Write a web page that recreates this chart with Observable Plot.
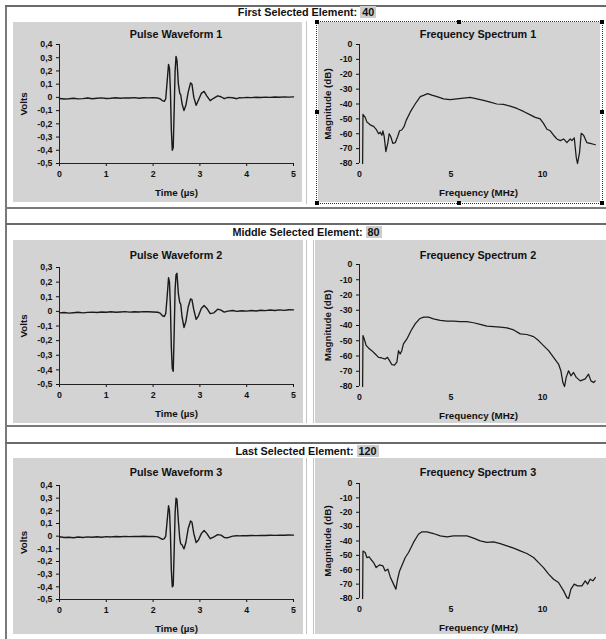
<!DOCTYPE html>
<html>
<head>
<meta charset="utf-8">
<script src="https://cdn.jsdelivr.net/npm/d3@7"></script>
<script src="https://cdn.jsdelivr.net/npm/@observablehq/plot@0.6"></script>
<style>
  html, body { margin: 0; padding: 0; background: #fff; }
  #page { position: relative; width: 606px; height: 639px; overflow: hidden; background: #fff;
          font-family: "Liberation Sans", Arial, sans-serif; }
  .hline { position: absolute; left: 5px; right: 0; height: 2px; background: #6a6a6a; }
  .vline { position: absolute; width: 2px; background: #7a7a7a; }
  .thin { position: absolute; width: 1px; background: #c4c4c4; }
  .header { position: absolute; left: 0; width: 614px; text-align: center; font-weight: bold; font-size: 10.8px; color: #111; line-height: 13px; }
  .header span { background: #cdcdcd; padding: 0 2px; }
  .panel { position: absolute; background: #d3d3d3; }
  .panel svg { position: absolute; left: 0; top: 0; }
  .ptitle { position: absolute; text-align: center; font-weight: bold; font-size: 10.8px; color: #111; line-height: 12px; }
  .sel { position: absolute; border: 1px dotted #333; }
  .handle { position: absolute; width: 4px; height: 4px; background: #000; }
</style>
</head>
<body>
<div id="page"></div>
<script>
// ---------- data ----------
const headers = ["First Selected Element: ", "Middle Selected Element: ", "Last Selected Element: "];
const elements = ["40", "80", "120"];
const waveTitles = ["Pulse Waveform 1", "Pulse Waveform 2", "Pulse Waveform 3"];
const specTitles = ["Frequency Spectrum 1", "Frequency Spectrum 2", "Frequency Spectrum 3"];

const pulseTime = [0,0.1,0.2,0.3,0.4,0.5,0.6,0.7,0.8,0.9,1.0,1.1,1.2,1.3,1.4,1.5,1.6,1.7,1.8,1.9,2.0,2.1,
  2.15,2.2,2.24,2.27,2.3,2.33,2.35,2.37,2.39,2.41,2.43,2.45,2.47,2.49,2.51,2.54,2.57,2.59,2.62,2.66,2.7,2.75,2.8,2.83,2.87,2.92,2.97,3.03,3.09,3.15,3.22,3.3,3.38,3.45,3.52,3.6,3.7,3.79,3.85,
  3.9,4.0,4.1,4.2,4.3,4.4,4.5,4.6,4.7,4.8,4.9,5.0];

const volts1 = [-0.008,-0.012,-0.01,-0.006,-0.011,-0.009,-0.005,-0.01,-0.007,-0.004,-0.008,-0.006,-0.003,-0.007,-0.004,-0.005,-0.002,-0.006,-0.003,-0.004,-0.002,-0.005,
  -0.01,-0.025,-0.03,-0.01,0.12,0.25,0.22,0.05,-0.25,-0.4,-0.38,-0.1,0.2,0.31,0.28,0.1,0.03,0.02,-0.05,-0.1,-0.06,0.04,0.11,0.1,0.0,-0.06,-0.02,0.03,0.045,0.01,-0.025,-0.005,0.012,0.005,-0.01,0.0,-0.003,-0.01,-0.002,
  -0.004,0.0,-0.002,0.001,-0.001,0.002,0.0,0.003,0.001,0.004,0.002,0.004];

const volts2 = [-0.01,-0.008,-0.012,-0.009,-0.006,-0.01,-0.007,-0.005,-0.008,-0.004,-0.006,-0.003,-0.006,-0.004,-0.002,-0.005,-0.003,-0.004,-0.002,-0.003,-0.004,-0.006,
  -0.012,-0.03,-0.035,-0.015,0.1,0.23,0.2,0.03,-0.25,-0.39,-0.41,-0.15,0.15,0.25,0.26,0.12,0.06,0.05,-0.04,-0.11,-0.07,0.03,0.085,0.08,0.01,-0.055,-0.03,0.02,0.04,0.02,-0.015,-0.01,0.015,0.008,-0.005,0.002,0.006,0.0,0.003,
  0.004,0.002,0.006,0.003,0.008,0.005,0.009,0.006,0.01,0.007,0.011,0.01];

const volts3 = [-0.005,-0.01,-0.008,-0.012,-0.007,-0.01,-0.006,-0.009,-0.005,-0.008,-0.004,-0.006,-0.003,-0.005,-0.002,-0.004,-0.002,-0.003,-0.001,-0.003,-0.002,-0.006,
  -0.015,-0.025,-0.02,0.0,0.12,0.24,0.2,0.02,-0.27,-0.4,-0.39,-0.12,0.18,0.3,0.29,0.12,-0.02,-0.06,-0.07,-0.1,-0.05,0.06,0.12,0.11,0.02,-0.05,-0.03,0.02,0.045,0.02,-0.02,-0.005,0.012,0.008,-0.01,-0.012,0.0,0.003,0.002,
  0.004,0.003,0.005,0.004,0.006,0.005,0.007,0.006,0.008,0.007,0.009,0.008];

const freq1 = [0.17,0.19,0.31,0.40,0.58,0.77,0.91,1.04,1.13,1.22,1.28,1.35,1.44,1.55,1.62,1.71,1.82,1.95,2.08,2.19,2.31,2.44,2.55,2.77,3.04,3.32,3.53,3.72,3.95,4.23,4.59,4.95,5.32,5.68,6.05,6.41,6.78,7.14,7.5,7.87,8.23,8.6,8.96,9.33,9.6,9.87,10.05,10.24,10.42,10.6,10.78,10.97,11.15,11.33,11.51,11.6,11.73,11.84,11.91,12.02,12.11,12.24,12.42,12.6,12.88];
const mag1 = [-80,-47,-49,-52,-54,-55,-57,-60,-59,-61,-58,-62,-72,-66,-60,-62,-66.5,-66,-62,-58,-57.5,-55,-51,-45.5,-40,-35,-34,-33,-34,-35,-36.5,-37,-36.5,-36,-35.5,-36.5,-37.5,-38.7,-40,-40.3,-41.4,-43,-45,-47.3,-49,-50,-53,-57,-58,-61,-63.5,-64.6,-63.5,-66,-63.5,-64.6,-62.8,-76,-80,-72.5,-59.7,-61,-66,-66.5,-67.4];

const freq2 = [0.17,0.19,0.26,0.36,0.49,0.67,0.86,1.04,1.22,1.4,1.53,1.64,1.77,1.91,2.04,2.13,2.22,2.31,2.4,2.59,2.82,3.04,3.28,3.5,3.77,4.04,4.41,4.77,5.14,5.5,5.87,6.23,6.59,6.96,7.32,7.69,8.05,8.42,8.78,9.14,9.51,9.78,10.05,10.33,10.6,10.87,11.0,11.11,11.2,11.29,11.42,11.55,11.69,11.84,12.06,12.33,12.51,12.64,12.79,12.88];
const mag2 = [-80,-46.6,-48.8,-53,-54.7,-56.5,-58.7,-60.9,-61.3,-62,-60.9,-63,-65.7,-66,-64,-56.5,-58.7,-56.5,-52,-48.8,-43.3,-38.9,-35.6,-34.5,-34.5,-35.6,-36.7,-37.1,-37.1,-37.4,-37.4,-38.2,-39.3,-40.4,-40.7,-41.1,-41.5,-42.9,-45.5,-45.9,-47.3,-49.9,-53.2,-56.5,-60.9,-65.3,-69.7,-77.4,-80,-74,-69.7,-73,-70.8,-74,-76.3,-75,-71.9,-76.3,-77.4,-76.3];

const freq3 = [0.17,0.19,0.31,0.4,0.53,0.62,0.77,0.91,1.09,1.28,1.4,1.55,1.68,1.86,1.99,2.08,2.19,2.31,2.5,2.68,2.95,3.22,3.41,3.68,4.04,4.41,4.77,5.14,5.5,5.87,6.23,6.59,6.96,7.32,7.69,8.05,8.42,8.78,9.14,9.51,9.78,10.05,10.33,10.6,10.87,11.15,11.33,11.42,11.55,11.73,11.91,12.15,12.33,12.46,12.6,12.75,12.88];
const mag3 = [-80,-47,-48,-51.5,-51,-52.7,-55,-58.5,-56.6,-57.3,-60.8,-59.6,-65,-70,-73.5,-66.6,-60.8,-57.3,-51.5,-48,-41,-35.3,-33.6,-33.6,-34.8,-36.4,-37.1,-36.4,-36.4,-36.4,-38,-39.9,-41,-40.6,-41.8,-43.4,-45,-46.9,-48.7,-51.5,-55,-58.5,-63,-66.6,-68.9,-74.7,-79.4,-80,-73.5,-70,-71.2,-71.2,-67.7,-70,-66.6,-67.7,-65.4];

const waveTicks = [[-0.5,-0.4,-0.3,-0.2,-0.1,0,0.1,0.2,0.3,0.4],[-0.5,-0.4,-0.3,-0.2,-0.1,0,0.1,0.2,0.3],[-0.5,-0.4,-0.3,-0.2,-0.1,0,0.1,0.2,0.3,0.4]];
const timeTicks = [0,1,2,3,4,5];
const magTicks = [-80,-70,-60,-50,-40,-30,-20,-10,0];
const freqTicks = [0,5,10];
const axisTitles = {time: "Time (µs)", volts: "Volts", freq: "Frequency (MHz)", mag: "Magnitude (dB)"};

const volts = [volts1, volts2, volts3];
const freqs = [freq1, freq2, freq3];
const mags = [mag1, mag2, mag3];

// ---------- layout ----------
const page = document.getElementById("page");
function el(cls, css, html) {
  const d = document.createElement("div");
  d.className = cls;
  Object.assign(d.style, css);
  if (html !== undefined) d.innerHTML = html;
  page.appendChild(d);
  return d;
}

const rows = [
  {lineTop: 5, lineBottom: 207, headY: 6,
   L: {left: 13, top: 22, w: 289, h: 180, mL: 46, mR: 9, mT: 22, mB: 39, tY: 6},
   R: {left: 318, top: 22, w: 282, h: 180, mL: 41, mR: 3, mT: 22, mB: 39, tY: 6}},
  {lineTop: 223, lineBottom: 425, headY: 226,
   L: {left: 13, top: 240, w: 290, h: 183, mL: 46, mR: 10, mT: 27, mB: 39, tY: 9},
   R: {left: 315, top: 240, w: 291, h: 183, mL: 44, mR: 9, mT: 24, mB: 37, tY: 9}},
  {lineTop: 442, lineBottom: null, headY: 445,
   L: {left: 13, top: 458, w: 290, h: 176, mL: 46, mR: 10, mT: 27, mB: 35, tY: 8},
   R: {left: 315, top: 458, w: 291, h: 176, mL: 44, mR: 9, mT: 25, mB: 36, tY: 8}}
];

el("vline", {left: "5px", top: "5px", height: "634px"});

const fmtVolt = d => d === 0 ? "0" : (d < 0 ? "-" : "") + Math.abs(d).toFixed(1).replace(".", ",");
const fmtPlain = d => (d < 0 ? "-" : "") + Math.abs(d);
const baseStyle = {background: "transparent", fontFamily: "'Liberation Sans', Arial, sans-serif", fontSize: "8.8px", fontWeight: "bold", color: "#111", overflow: "visible"};

function biggerLabels(svg) {
  const names = Object.values(axisTitles);
  svg.querySelectorAll("text").forEach(t => {
    if (names.includes(t.textContent.trim())) t.style.fontSize = "9.8px";
  });
  return svg;
}

rows.forEach((r, i) => {
  el("hline", {top: r.lineTop + "px"});
  if (r.lineBottom !== null) el("hline", {top: r.lineBottom + "px", height: "1.5px", background: "#7a7a7a"});
  el("header", {top: r.headY + "px"}, headers[i] + "<span>" + elements[i] + "</span>");

  if (i === 0) {
    el("thin", {left: "306px", top: "21px", height: "183px"});
  } else {
    el("thin", {left: "306px", top: (r.L.top) + "px", height: (r.L.h) + "px"});
    el("thin", {left: "313px", top: (r.L.top) + "px", height: (r.L.h) + "px"});
  }

  // ----- waveform panel -----
  const L = r.L;
  const pL = el("panel", {left: L.left + "px", top: L.top + "px", width: L.w + "px", height: L.h + "px"});
  const ticks = waveTicks[i];
  const ymax = ticks[ticks.length - 1];
  const wdata = pulseTime.map((t, k) => ({t, v: volts[i][k]})).filter(d => d.v !== undefined);
  const wave = Plot.plot({
    width: L.w, height: L.h,
    marginLeft: L.mL, marginRight: L.mR, marginTop: L.mT, marginBottom: L.mB,
    style: baseStyle,
    x: {domain: [0, 5], ticks: timeTicks, tickSize: 3, tickPadding: 4, tickFormat: fmtPlain,
        label: axisTitles.time, labelAnchor: "center", labelOffset: 32, labelArrow: "none"},
    y: {domain: [-0.5, ymax], ticks: ticks, tickSize: 3, tickPadding: 4, tickFormat: fmtVolt,
        label: axisTitles.volts, labelAnchor: "center", labelOffset: 39, labelArrow: "none"},
    marks: [
      Plot.ruleX([0], {y1: -0.5, y2: ymax, stroke: "#222", strokeWidth: 1}),
      Plot.ruleY([-0.5], {x1: 0, x2: 5, stroke: "#222", strokeWidth: 1}),
      Plot.line(wdata, {x: "t", y: "v", stroke: "#1a1a1a", strokeWidth: 1.4, curve: "linear"})
    ]
  });
  pL.appendChild(biggerLabels(wave));
  const plotW = L.w - L.mL - L.mR;
  el("ptitle", {left: (L.left + L.mL) + "px", top: (L.top + L.tY) + "px", width: plotW + "px"}, waveTitles[i]);

  // ----- spectrum panel -----
  const R = r.R;
  const pR = el("panel", {left: R.left + "px", top: R.top + "px", width: R.w + "px", height: R.h + "px"});
  const sdata = freqs[i].map((f, k) => ({f, m: mags[i][k]})).filter(d => d.m !== undefined);
  const spec = Plot.plot({
    width: R.w, height: R.h,
    marginLeft: R.mL, marginRight: R.mR, marginTop: R.mT, marginBottom: R.mB,
    style: baseStyle,
    x: {domain: [0, 13], ticks: freqTicks, tickSize: 0, tickPadding: 7, tickFormat: fmtPlain,
        label: axisTitles.freq, labelAnchor: "center", labelOffset: 32, labelArrow: "none"},
    y: {domain: [-80, 0], ticks: magTicks, tickSize: 3, tickPadding: 4, tickFormat: fmtPlain,
        label: axisTitles.mag, labelAnchor: "center", labelOffset: 35, labelArrow: "none"},
    marks: [
      Plot.ruleX([0], {y1: -80, y2: 0, stroke: "#222", strokeWidth: 1}),
      Plot.line(sdata, {x: "f", y: "m", stroke: "#1a1a1a", strokeWidth: 1.25})
    ]
  });
  pR.appendChild(biggerLabels(spec));
  const plotWR = R.w - R.mL - R.mR;
  el("ptitle", {left: (R.left + R.mL) + "px", top: (R.top + R.tY) + "px", width: plotWR + "px"}, specTitles[i]);
});

// selection frame around first spectrum
const sx0 = 316, sy0 = 21, sx1 = 601, sy1 = 202;
el("sel", {left: sx0 + "px", top: sy0 + "px", width: (sx1 - sx0) + "px", height: (sy1 - sy0) + "px"});
const hx = [sx0, (sx0 + sx1) / 2, sx1], hy = [sy0, (sy0 + sy1) / 2, sy1];
hy.forEach((y, a) => hx.forEach((x, b) => {
  if (a === 1 && b === 1) return;
  el("handle", {left: (x - 1.5) + "px", top: (y - 1.5) + "px"});
}));
</script>
</body>
</html>
